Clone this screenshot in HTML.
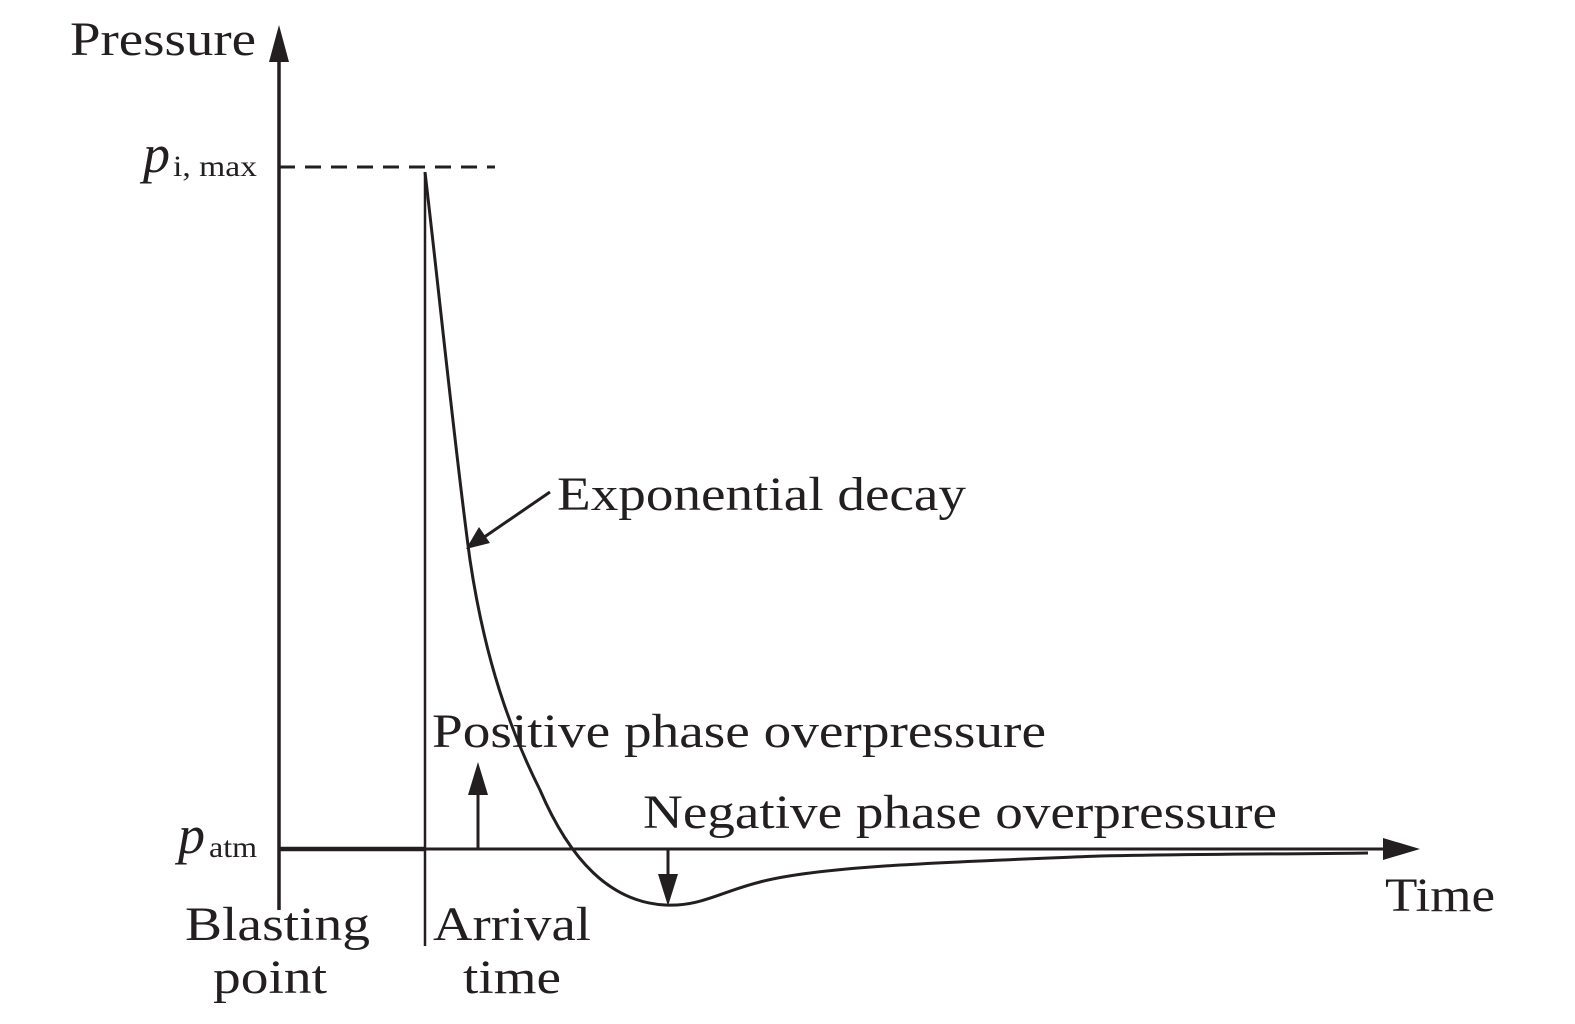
<!DOCTYPE html>
<html><head><style>
html,body{margin:0;padding:0;background:#fff;}
svg{display:block;}
text{font-family:"Liberation Serif",serif;fill:#231f20;}
</style></head><body>
<svg width="1575" height="1024" viewBox="0 0 1575 1024" xmlns="http://www.w3.org/2000/svg">
<g stroke="#231f20" fill="none">
<line x1="279" y1="910" x2="279" y2="58" stroke-width="3.5"/>
<line x1="279" y1="167" x2="495" y2="167" stroke-width="3" stroke-dasharray="16,10"/>
<line x1="279" y1="849" x2="425" y2="849" stroke-width="4.5"/>
<line x1="425" y1="849" x2="1385" y2="849" stroke-width="3"/>
<line x1="425" y1="172" x2="425" y2="946" stroke-width="2.5"/>
<path d="M425,172 C440,300 455,450 470,560 C485,660 510,730 540,790 C570,860 610,902 665,905 C700,907 720,892 760,882 C820,866 950,862 1100,856 C1200,854 1300,854 1368,853" stroke-width="3"/>
<line x1="550" y1="492" x2="480" y2="540" stroke-width="3"/>
<line x1="478" y1="849" x2="478" y2="790" stroke-width="3"/>
<line x1="668" y1="849" x2="668" y2="880" stroke-width="3"/>
</g>
<g fill="#231f20">
<polygon points="279,25 269,62 289,62"/>
<polygon points="1420,849 1383,838 1383,860"/>
<polygon points="466,549 479,527 490,543"/>
<polygon points="478,762 468,795 488,795"/>
<polygon points="668,906 658,874 678,874"/>
</g>
<text x="70" y="55" font-size="48" textLength="186" lengthAdjust="spacingAndGlyphs">Pressure</text>
<text x="143" y="172" font-size="54" font-style="italic">p</text>
<text x="173" y="176" font-size="30" textLength="84" lengthAdjust="spacingAndGlyphs">i, max</text>
<text x="178" y="853" font-size="54" font-style="italic">p</text>
<text x="209" y="857" font-size="30" textLength="48" lengthAdjust="spacingAndGlyphs">atm</text>
<text x="557" y="510" font-size="48" textLength="409" lengthAdjust="spacingAndGlyphs">Exponential decay</text>
<text x="432" y="747" font-size="48" textLength="614" lengthAdjust="spacingAndGlyphs">Positive phase overpressure</text>
<text x="643" y="828" font-size="48" textLength="634" lengthAdjust="spacingAndGlyphs">Negative phase overpressure</text>
<text x="1385" y="911" font-size="48" textLength="110" lengthAdjust="spacingAndGlyphs">Time</text>
<text x="185" y="940" font-size="48" textLength="185" lengthAdjust="spacingAndGlyphs">Blasting</text>
<text x="213" y="993" font-size="48" textLength="114" lengthAdjust="spacingAndGlyphs">point</text>
<text x="433" y="940" font-size="48" textLength="158" lengthAdjust="spacingAndGlyphs">Arrival</text>
<text x="463" y="993" font-size="48" textLength="98" lengthAdjust="spacingAndGlyphs">time</text>
</svg>
</body></html>
